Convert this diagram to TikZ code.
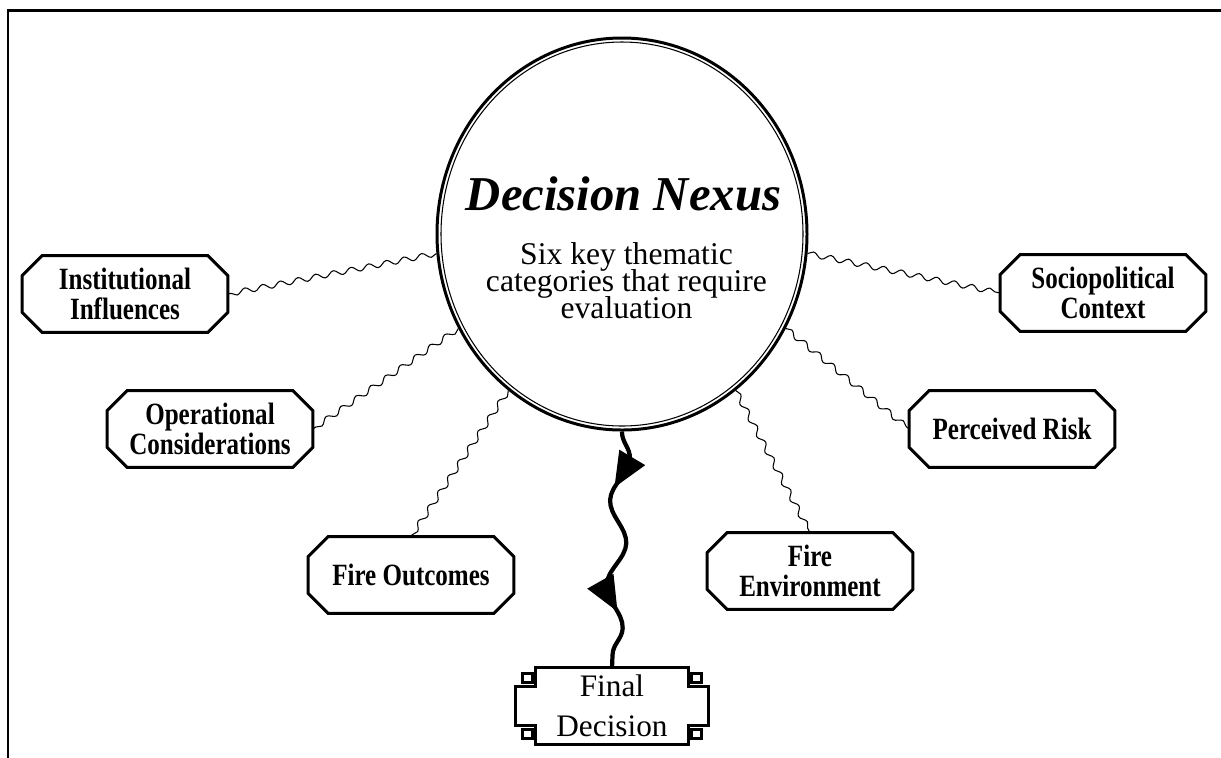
\documentclass[tikz,border=0pt]{standalone}
\usepackage{fontspec}
\setmainfont{Liberation Serif}
\newfontfamily\narrowfont[FakeStretch=0.81]{Liberation Serif}
\usepackage{tikz}
\usetikzlibrary{arrows.meta,shapes.geometric,decorations.pathmorphing,decorations.markings}
\setlength{\lineskiplimit}{-20pt}
\tikzstyle{link} = [line width=0.6pt, decorate, decoration={snake, amplitude=0.055cm, segment length=0.36cm}]
\tikzstyle{flow} = [line width=2.4pt, decorate, decoration={snake, amplitude=0.18cm, segment length=1.7cm},
    postaction={decorate, decoration={markings,
        mark=at position 0.24 with {\arrow{Triangle[length=7mm,width=5.8mm]}},
        mark=at position 0.77 with {\arrow{Triangle[length=7mm,width=5.8mm]}}}}]

% octagon outline round a category box
\newcommand{\chamferframe}[1]{%
  \draw[line width=1.7pt] ([xshift=4mm]#1.north west) -- ([xshift=-4mm]#1.north east)
    -- ([yshift=-4mm]#1.north east) -- ([yshift=4mm]#1.south east)
    -- ([xshift=-4mm]#1.south east) -- ([xshift=4mm]#1.south west)
    -- ([yshift=4mm]#1.south west) -- ([yshift=-4mm]#1.north west) -- cycle;
}

% frame of the final box, with notched corners
\newcommand{\plaqueframe}[1]{%
  \draw[line width=1.7pt] ([xshift=-4mm]#1.north east) -- ([xshift=-4mm,yshift=-3.8mm]#1.north east)
    -- ([yshift=-3.8mm]#1.north east) -- ([yshift=3.8mm]#1.south east)
    -- ([xshift=-4mm,yshift=3.8mm]#1.south east) -- ([xshift=-4mm]#1.south east)
    -- ([xshift=4mm]#1.south west) -- ([xshift=4mm,yshift=3.8mm]#1.south west)
    -- ([yshift=3.8mm]#1.south west) -- ([yshift=-3.8mm]#1.north west)
    -- ([xshift=4mm,yshift=-3.8mm]#1.north west) -- ([xshift=4mm]#1.north west) -- cycle;
  \draw[line width=1.5pt] ([shift={(1.4mm,-1.2mm)}]#1.north west) rectangle ++(2mm,-1.8mm);
  \draw[line width=1.5pt] ([shift={(-1.4mm,-1.2mm)}]#1.north east) rectangle ++(-2mm,-1.8mm);
  \draw[line width=1.5pt] ([shift={(1.4mm,1.2mm)}]#1.south west) rectangle ++(2mm,1.8mm);
  \draw[line width=1.5pt] ([shift={(-1.4mm,1.2mm)}]#1.south east) rectangle ++(-2mm,1.8mm);
}

\begin{document}
\begin{tikzpicture}[
    category/.style={rectangle, minimum width=4.1cm, minimum height=1.52cm, inner sep=0pt, align=center,
        font=\narrowfont\bfseries\fontsize{17.6}{17}\selectfont},
    nexus/.style={ellipse, draw, line width=1.7pt, minimum width=7.4cm, minimum height=7.84cm, inner sep=0pt},
    plaque/.style={rectangle, minimum width=3.84cm, minimum height=1.52cm, inner sep=0pt, align=center,
        font=\fontsize{17.8}{22.8}\selectfont}]

\useasboundingbox (0,0) rectangle (24.42,-15.14);
\draw[line width=1.3pt] (0.166,-15.5) -- (0.166,-0.21) -- (24.8,-0.21);

% Central circle
\node[nexus] (nexus) at (12.44,-4.68) {};
\draw[line width=0.6pt] (nexus.center) ellipse [x radius=3.62cm, y radius=3.84cm];
\node[anchor=base, inner sep=0pt, font=\bfseries\itshape\fontsize{27.7}{30}\selectfont] (title) at (12.47,-4.2) {Decision Nexus};
\node[anchor=north, inner sep=0pt, align=center, font=\fontsize{18}{15.3}\selectfont] (subtitle) at (12.53,-4.84) {Six key thematic\\categories that require\\evaluation};

% Categories
\node[category] (inst) at (2.5,-5.88) {Institutional\\Influences};
\node[category] (oper) at (4.2,-8.58) {Operational\\Considerations};
\node[category] (outc) at (8.22,-11.5) {Fire Outcomes};
\node[category] (socio) at (22.06,-5.86) {Sociopolitical\\Context};
\node[category] (risk) at (20.24,-8.58) {Perceived Risk};
\node[category] (env) at (16.2,-11.42) {Fire\\Environment};
\foreach \n in {inst,oper,outc,socio,risk,env} {\chamferframe{\n}}

% Decision
\node[plaque] (final) at (12.24,-14.12) {Final\\Decision};
\plaqueframe{final}

% Connections
\draw[link] (nexus.186) -- (inst.east);
\draw[link] (nexus.210) -- (oper.east);
\draw[link] (nexus.234) -- (outc.north);
\draw[link] (nexus.-6) -- (socio.west);
\draw[link] (nexus.-30) -- (risk.west);
\draw[link] (nexus.-54) -- (env.north);

\draw[flow] (nexus.south) -- (final.north);
\end{tikzpicture}
\end{document}
